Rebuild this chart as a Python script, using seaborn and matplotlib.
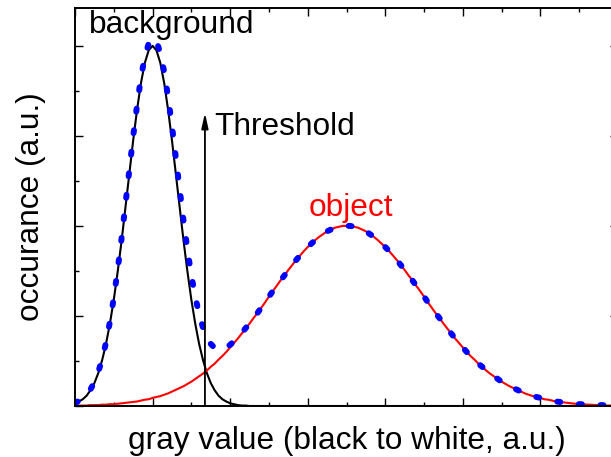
import numpy as np
import pandas as pd
import matplotlib
matplotlib.use("Agg")
import matplotlib.pyplot as plt
from matplotlib.ticker import MultipleLocator, NullFormatter
import seaborn as sns

# gray value axis (a.u.), sampled every 0.05
gray = np.round(np.arange(0, 7.0001, 0.05), 2)

# histogram of the background pixels (dark peak)
background = [0.06, 0.1, 0.15, 0.23, 0.35, 0.51, 0.73, 1.02, 1.38, 1.83,
              2.36, 2.98, 3.66, 4.4, 5.16, 5.9, 6.58, 7.17, 7.62, 7.9,
              8, 7.9, 7.62, 7.17, 6.58, 5.9, 5.16, 4.4, 3.66, 2.98,
              2.36, 1.83, 1.38, 1.02, 0.73, 0.51, 0.35, 0.23, 0.15, 0.1,
              0.06, 0.04, 0.02, 0.01, 0.01, 0, 0, 0, 0, 0] + [0] * 91

# histogram of the object pixels (bright, broad peak)
obj = [0.01, 0.01, 0.01, 0.01, 0.02, 0.02, 0.02, 0.03, 0.03, 0.04,
       0.04, 0.05, 0.06, 0.07, 0.08, 0.09, 0.1, 0.12, 0.14, 0.15,
       0.18, 0.2, 0.22, 0.25, 0.28, 0.32, 0.36, 0.4, 0.44, 0.49,
       0.54, 0.6, 0.66, 0.72, 0.79, 0.87, 0.94, 1.03, 1.11, 1.2,
       1.3, 1.4, 1.5, 1.61, 1.72, 1.83, 1.95, 2.06, 2.18, 2.3,
       2.43, 2.55, 2.67, 2.79, 2.9, 3.02, 3.13, 3.24, 3.34, 3.44,
       3.53, 3.61, 3.69, 3.76, 3.82, 3.88, 3.92, 3.96, 3.98, 4,
       4, 4, 3.98, 3.96, 3.92, 3.88, 3.82, 3.76, 3.69, 3.61,
       3.53, 3.44, 3.34, 3.24, 3.13, 3.02, 2.9, 2.79, 2.67, 2.55,
       2.43, 2.3, 2.18, 2.06, 1.95, 1.83, 1.72, 1.61, 1.5, 1.4,
       1.3, 1.2, 1.11, 1.03, 0.94, 0.87, 0.79, 0.72, 0.66, 0.6,
       0.54, 0.49, 0.44, 0.4, 0.36, 0.32, 0.28, 0.25, 0.22, 0.2,
       0.18, 0.15, 0.14, 0.12, 0.1, 0.09, 0.08, 0.07, 0.06, 0.05,
       0.04, 0.04, 0.03, 0.03, 0.02, 0.02, 0.02, 0.01, 0.01, 0.01, 0.01]

threshold = 1.675
labels = {"background": "background", "object": "object", "threshold": "Threshold"}
xlabel = "gray value (black to white, a.u.)"
ylabel = "occurance (a.u.)"

df = pd.DataFrame({"gray": gray, "background": background, "object": obj})
df["total"] = df["background"] + df["object"]

sns.set_style("white")
plt.rcParams["font.family"] = ["Liberation Sans", "DejaVu Sans"]
plt.rcParams["text.color"] = "black"
plt.rcParams["axes.labelcolor"] = "black"
FS = 22.8

fig = plt.figure(figsize=(6.11, 4.57), dpi=100)
ax = fig.add_axes([75 / 611, 51 / 457, 543 / 611, 398 / 457])

sns.lineplot(data=df, x="gray", y="background", ax=ax, color="black", lw=1.5)
sns.lineplot(data=df, x="gray", y="object", ax=ax, color="#ff0000", lw=1.5)
sns.lineplot(data=df, x="gray", y="total", ax=ax, color="#0000ff", lw=4.3,
             linestyle=(0, (0.5, 3.13)), dash_capstyle="round")

ax.set_xlim(0, 7)
ax.set_ylim(0, 8.84)

# threshold arrow
ax.annotate("", xy=(threshold, 6.51), xytext=(threshold, 0),
            arrowprops=dict(arrowstyle="-|>,head_length=0.9,head_width=0.2",
                            mutation_scale=10, color="black", lw=1.3,
                            shrinkA=0, shrinkB=0))

ax.text(1.25, 8.29, labels["background"], fontsize=FS, ha="center", va="baseline")
ax.text(1.80, 6.02, labels["threshold"], fontsize=FS, ha="left", va="baseline")
ax.text(3.56, 4.22, labels["object"], fontsize=FS, ha="center", va="baseline",
        color="#ff0000")

ax.set_xlabel(xlabel, fontsize=FS, va="baseline")
ax.xaxis.set_label_coords(0.5, -0.108)
ax.set_ylabel(ylabel, fontsize=FS, va="center", ha="center")
ax.yaxis.set_label_coords(-0.081, 0.5)

ax.xaxis.set_major_locator(MultipleLocator(1))
ax.xaxis.set_minor_locator(MultipleLocator(0.5))
ax.yaxis.set_major_locator(MultipleLocator(2))
ax.yaxis.set_minor_locator(MultipleLocator(1))
ax.xaxis.set_major_formatter(NullFormatter())
ax.yaxis.set_major_formatter(NullFormatter())
ax.tick_params(which="both", direction="in", top=True, right=True,
               bottom=True, left=True, width=1.0, color="black")
ax.tick_params(which="major", length=6)
ax.tick_params(which="minor", length=3)
for sp in ax.spines.values():
    sp.set_linewidth(1.4)
    sp.set_color("black")

fig.savefig("out.png", dpi=100)
